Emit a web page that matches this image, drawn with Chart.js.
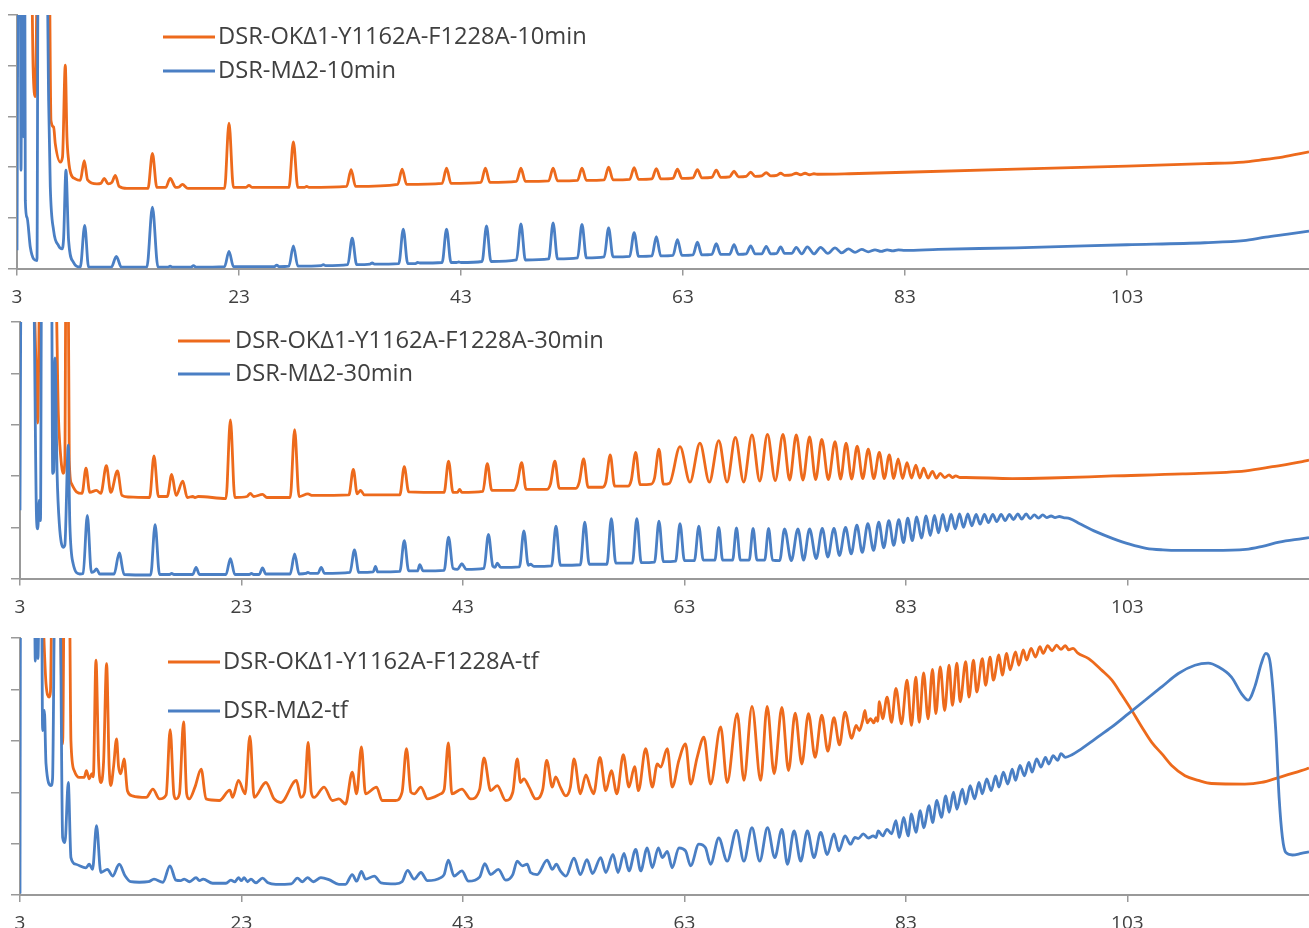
<!DOCTYPE html>
<html><head><meta charset="utf-8">
<script src="https://cdn.jsdelivr.net/npm/chart.js@4.4.1/dist/chart.umd.min.js"></script>
<style>
html,body{margin:0;padding:0;background:#fff;overflow:hidden;width:1309px;height:928px;}
.panel{position:absolute;left:0;width:1309px;}
canvas{display:block;}
</style></head><body>
<div class="panel" style="top:0px"><canvas id="c1" width="1309" height="330"></canvas></div>
<div class="panel" style="top:310px"><canvas id="c2" width="1309" height="330"></canvas></div>
<div class="panel" style="top:626px"><canvas id="c3" width="1309" height="330"></canvas></div>
<script>
// ---------------- DATA ----------------
const xTicks = [3, 23, 43, 63, 83, 103];
const labels1 = ['DSR-OK\u03941-Y1162A-F1228A-10min', 'DSR-M\u03942-10min'];
const labels2 = ['DSR-OK\u03941-Y1162A-F1228A-30min', 'DSR-M\u03942-30min'];
const labels3 = ['DSR-OK\u03941-Y1162A-F1228A-tf', 'DSR-M\u03942-tf'];

const p1Orange = [[3,3.78],[3.12,6],[4.3,6],[4.45,3.98],[4.65,3.39],[4.85,6],[5.9,6],[6.06,2.92],[6.3,2.79],[6.45,2.46],[6.9,2.1],[7.1,2.2],[7.35,4.01],[7.5,2.6],[7.65,2.13],[7.85,1.87],[8.25,1.77],[8.7,1.74],[9.06,2.13],[9.36,1.75],[10.2,1.67],[10.55,1.68],[10.87,1.78],[11.2,1.67],[11.55,1.7],[11.86,1.84],[12.2,1.62],[12.9,1.58],[14.8,1.58],[15.2,2.27],[15.6,1.6],[16.4,1.6],[16.8,1.78],[17.3,1.6],[17.6,1.61],[17.9,1.66],[18.4,1.58],[21.7,1.58],[22.1,2.87],[22.5,1.6],[23.6,1.6],[23.9,1.64],[24.2,1.6],[27.5,1.6],[27.9,2.5],[28.3,1.6],[28.9,1.6],[29.1,1.62],[29.3,1.6],[32.7,1.62],[33.1,1.95],[33.5,1.62],[37.3,1.66],[37.7,1.96],[38.1,1.66],[41.3,1.68],[41.7,1.98],[42.1,1.68],[44.8,1.7],[45.2,1.98],[45.6,1.7],[48.0,1.72],[48.4,1.98],[48.8,1.72],[50.9,1.73],[51.3,1.98],[51.7,1.73],[53.5,1.74],[53.9,1.98],[54.3,1.74],[55.9,1.75],[56.3,2.0],[56.7,1.75],[58.2,1.76],[58.6,1.99],[59.0,1.76],[60.2,1.77],[60.6,1.97],[61.0,1.77],[62.1,1.78],[62.5,1.96],[62.9,1.78],[63.9,1.79],[64.3,1.95],[64.7,1.79],[65.6,1.8],[66.0,1.94],[66.4,1.8],[67.2,1.81],[67.6,1.92],[68.0,1.81],[68.7,1.82],[69.1,1.9],[69.5,1.82],[70.1,1.83],[70.5,1.89],[70.9,1.83],[71.45,1.84],[71.8,1.88],[72.15,1.84],[72.8,1.85],[73.2,1.88],[73.6,1.85],[74.0,1.88],[74.4,1.85],[74.8,1.87],[75.2,1.86],[78,1.87],[83,1.9],[93,1.96],[103,2.02],[110,2.07],[113.5,2.1],[115,2.14],[117,2.2],[119.4,2.3]];

const p1Blue = [[3,0.36],[3.1,6],[3.3,6],[3.36,1.94],[3.45,6],[3.55,6],[3.6,2.6],[3.65,6],[3.7,6],[3.75,1.34],[3.9,1.01],[4.2,0.42],[4.5,0.19],[4.8,0.16],[4.9,6],[5.7,6],[5.85,3.32],[6.0,1.61],[6.3,0.75],[6.75,0.45],[7.05,0.39],[7.2,0.6],[7.41,1.94],[7.65,0.55],[8.1,0.12],[8.7,0.03],[9.1,0.85],[9.45,0.03],[11.5,0.03],[11.95,0.24],[12.4,0.03],[14.7,0.03],[15.2,1.21],[15.7,0.03],[16.6,0.03],[16.8,0.05],[17.0,0.03],[18.7,0.03],[18.9,0.06],[19.1,0.03],[21.7,0.04],[22.1,0.34],[22.5,0.04],[26.2,0.04],[26.4,0.07],[26.6,0.04],[27.5,0.05],[27.9,0.45],[28.3,0.05],[30.4,0.06],[30.6,0.08],[30.8,0.06],[32.8,0.08],[33.2,0.6],[33.6,0.08],[34.8,0.09],[35.0,0.11],[35.2,0.09],[37.4,0.1],[37.8,0.78],[38.2,0.1],[38.9,0.1],[39.1,0.12],[39.3,0.11],[41.3,0.12],[41.7,0.78],[42.1,0.12],[42.6,0.12],[42.8,0.13],[43.0,0.12],[44.9,0.14],[45.3,0.84],[45.7,0.14],[48.0,0.17],[48.4,0.88],[48.8,0.17],[50.9,0.19],[51.3,0.9],[51.7,0.19],[53.5,0.21],[53.9,0.87],[54.3,0.21],[55.9,0.23],[56.3,0.8],[56.7,0.23],[58.2,0.24],[58.6,0.71],[59.0,0.24],[60.2,0.25],[60.6,0.63],[61.0,0.25],[62.1,0.26],[62.5,0.57],[62.9,0.26],[63.9,0.27],[64.3,0.52],[64.7,0.27],[65.6,0.28],[66.0,0.49],[66.4,0.28],[67.2,0.28],[67.6,0.47],[68.0,0.28],[68.7,0.29],[69.1,0.45],[69.5,0.29],[70.1,0.29],[70.5,0.44],[70.9,0.29],[71.45,0.3],[71.8,0.43],[72.15,0.3],[72.8,0.3],[73.2,0.42],[73.7,0.29],[74.2,0.43],[74.8,0.29],[75.4,0.42],[76.05,0.3],[76.7,0.41],[77.3,0.31],[77.9,0.39],[78.5,0.32],[79.1,0.38],[79.7,0.33],[80.3,0.37],[80.85,0.34],[81.4,0.37],[81.9,0.35],[82.4,0.37],[83,0.36],[86,0.38],[93,0.41],[103,0.47],[110,0.51],[113.5,0.55],[115.5,0.62],[117.5,0.68],[119.4,0.74]];

const p2Orange = [[3,6],[4.15,6],[4.5,3.74],[4.6,3.03],[4.8,6],[6.2,6],[6.46,3.22],[6.6,2.6],[6.9,2.05],[7.05,2.3],[7.15,6],[7.35,6],[7.45,2.3],[7.65,1.85],[8.1,1.69],[8.6,1.66],[8.96,2.15],[9.3,1.68],[9.9,1.72],[10.3,1.66],[10.8,2.2],[11.2,1.68],[11.8,2.1],[12.2,1.62],[12.8,1.59],[14.7,1.58],[15.1,2.39],[15.5,1.6],[16.3,1.6],[16.7,2.03],[17.1,1.62],[17.7,1.9],[18.1,1.58],[18.6,1.6],[18.8,1.58],[19.1,1.6],[21.6,1.56],[22.0,3.09],[22.4,1.58],[23.5,1.6],[23.8,1.66],[24.1,1.6],[24.9,1.64],[25.3,1.58],[27.4,1.58],[27.8,2.9],[28.2,1.6],[29.0,1.65],[29.4,1.62],[32.7,1.63],[33.1,2.13],[33.45,1.65],[33.75,1.72],[34.1,1.63],[37.3,1.63],[37.7,2.18],[38.1,1.69],[41.3,1.68],[41.7,2.29],[42.1,1.68],[42.5,1.68],[42.7,1.74],[42.9,1.68],[44.8,1.7],[45.2,2.24],[45.6,1.72],[47.6,1.72],[47.9,1.85],[48.3,2.26],[48.7,1.74],[50.6,1.74],[50.9,1.84],[51.3,2.29],[51.7,1.76],[53.2,1.76],[53.5,1.88],[53.9,2.33],[54.3,1.78],[55.6,1.78],[55.9,1.88],[56.3,2.41],[56.7,1.8],[57.9,1.8],[58.2,1.92],[58.6,2.46],[59.0,1.83],[60.0,1.84],[60.3,1.96],[60.7,2.52],[61.1,1.84],[61.65,1.86],[62.6,2.57],[63.5,1.88],[64.4,2.64],[65.25,1.88],[66.1,2.69],[66.85,1.88],[67.6,2.75],[68.35,1.88],[69.1,2.8],[69.8,1.9],[70.5,2.81],[71.2,1.91],[71.9,2.81],[72.5,1.92],[73.1,2.8],[73.7,1.92],[74.3,2.76],[74.85,1.93],[75.4,2.71],[76.0,1.93],[76.6,2.67],[77.1,1.94],[77.6,2.64],[78.1,1.94],[78.6,2.58],[79.1,1.95],[79.6,2.52],[80.1,1.95],[80.6,2.46],[81.05,1.95],[81.5,2.41],[81.9,1.95],[82.3,2.33],[82.7,1.95],[83.1,2.26],[83.5,1.96],[83.9,2.21],[84.25,1.96],[84.6,2.15],[85.0,1.96],[85.4,2.09],[85.75,1.96],[86.1,2.05],[86.5,1.97],[86.9,2.02],[87.2,1.97],[87.5,2.0],[87.9,1.97],[88.4,1.97],[92.6,1.95],[96,1.96],[101.7,2.0],[108,2.04],[113.7,2.1],[116.1,2.18],[118.8,2.28],[119.4,2.31]];

const p2Blue = [[3,1.33],[3.1,6],[4.2,6],[4.5,1.13],[4.6,0.97],[4.75,1.53],[4.85,1.13],[4.95,6],[5.85,6],[5.95,2.05],[6.05,2.1],[6.16,4.3],[6.35,2.05],[6.55,1.07],[6.9,0.61],[7.05,0.65],[7.36,2.6],[7.5,1.07],[7.8,0.29],[8.4,0.09],[8.7,0.1],[9.08,1.23],[9.45,0.12],[9.7,0.14],[9.9,0.19],[10.2,0.09],[11.5,0.09],[11.96,0.5],[12.4,0.08],[14.8,0.07],[15.2,1.05],[15.6,0.08],[16.5,0.08],[16.7,0.1],[16.9,0.08],[18.6,0.08],[18.9,0.22],[19.2,0.08],[21.6,0.08],[22.0,0.39],[22.4,0.08],[23.7,0.08],[23.9,0.1],[24.1,0.08],[24.6,0.08],[24.9,0.21],[25.2,0.09],[27.4,0.09],[27.8,0.48],[28.2,0.09],[28.8,0.1],[29.0,0.12],[29.2,0.1],[29.9,0.1],[30.2,0.22],[30.5,0.1],[32.8,0.12],[33.2,0.56],[33.6,0.12],[34.9,0.13],[35.1,0.24],[35.3,0.13],[37.3,0.14],[37.7,0.74],[38.1,0.15],[38.9,0.15],[39.1,0.27],[39.4,0.15],[41.3,0.16],[41.7,0.81],[42.1,0.2],[42.5,0.18],[42.9,0.29],[43.3,0.18],[44.9,0.2],[45.3,0.86],[45.7,0.24],[45.9,0.22],[46.1,0.3],[46.4,0.22],[48.1,0.23],[48.5,0.93],[48.9,0.26],[49.1,0.28],[49.4,0.24],[51.0,0.25],[51.4,1.02],[51.8,0.26],[53.6,0.27],[54.0,1.1],[54.4,0.28],[56.0,0.28],[56.4,1.17],[56.8,0.3],[58.3,0.3],[58.7,1.17],[59.1,0.31],[60.3,0.32],[60.7,1.12],[61.1,0.33],[62.2,0.34],[62.6,1.07],[63.0,0.35],[63.9,0.35],[64.3,1.02],[64.7,0.36],[65.75,0.36],[66.1,1.0],[66.45,0.36],[67.35,0.36],[67.7,0.99],[68.05,0.36],[68.85,0.36],[69.2,0.98],[69.55,0.36],[70.25,0.36],[70.6,0.98],[70.95,0.36],[71.6,0.35],[72.04,0.97],[72.65,0.35],[73.25,0.97],[73.76,0.36],[74.3,0.97],[74.9,0.39],[75.45,0.98],[75.95,0.42],[76.5,0.98],[77.0,0.45],[77.55,1.0],[78.06,0.48],[78.57,1.04],[79.06,0.51],[79.56,1.07],[80.08,0.55],[80.55,1.1],[81.0,0.6],[81.46,1.13],[81.9,0.65],[82.36,1.15],[82.78,0.7],[83.17,1.18],[83.57,0.74],[83.98,1.2],[84.4,0.79],[84.83,1.22],[85.2,0.84],[85.58,1.23],[85.94,0.89],[86.33,1.25],[86.7,0.93],[87.09,1.25],[87.45,0.97],[87.84,1.26],[88.2,1.0],[88.59,1.26],[88.95,1.03],[89.34,1.25],[89.7,1.06],[90.09,1.25],[90.45,1.09],[90.85,1.25],[91.2,1.11],[91.6,1.25],[91.96,1.13],[92.35,1.25],[92.71,1.15],[93.1,1.26],[93.46,1.16],[93.86,1.26],[94.22,1.17],[94.6,1.24],[94.97,1.18],[95.36,1.24],[95.72,1.19],[96.11,1.22],[96.47,1.19],[96.86,1.21],[97.22,1.19],[97.8,1.17],[98.7,1.07],[100.2,0.91],[101.7,0.78],[103.2,0.67],[104.7,0.59],[106.2,0.56],[107.7,0.55],[110.7,0.55],[113.7,0.57],[115.2,0.63],[116.7,0.71],[118.8,0.78],[119.4,0.8]];

const p3Orange = [[3,6],[4.9,6],[5.35,4.11],[5.64,3.85],[5.75,3.95],[5.9,6],[6.6,6],[6.85,2.94],[7.0,6],[7.45,6],[7.6,3.0],[7.9,2.42],[8.35,2.29],[8.8,2.29],[9.0,2.42],[9.25,2.26],[9.5,2.36],[9.62,2.3],[9.86,4.57],[10.1,2.6],[10.3,2.19],[10.55,2.6],[10.82,4.5],[11.05,2.5],[11.2,2.13],[11.45,2.5],[11.72,3.04],[11.9,2.5],[12.1,2.36],[12.4,2.65],[12.7,2.03],[13.15,1.93],[14.4,1.9],[15.0,2.06],[15.6,1.87],[16.2,1.95],[16.56,3.22],[16.9,1.95],[17.08,1.87],[17.4,1.97],[17.77,3.37],[18.05,1.97],[18.28,1.87],[18.8,2.1],[19.36,2.45],[19.8,1.87],[21.0,1.84],[21.95,2.04],[22.2,1.9],[22.73,2.23],[23.33,1.97],[23.76,3.09],[24.15,1.9],[25.2,2.19],[25.95,1.87],[26.56,1.8],[27.96,2.23],[28.36,1.9],[28.7,2.0],[29.02,2.97],[29.3,2.0],[29.56,1.9],[30.46,2.1],[31.2,1.84],[31.8,1.87],[32.4,1.77],[33.0,2.39],[33.4,1.97],[33.83,2.88],[34.2,1.97],[35.2,2.1],[35.7,1.84],[36.9,1.84],[37.5,2.0],[37.9,2.85],[38.3,2.0],[38.6,1.97],[39.2,2.1],[39.8,1.87],[41.0,1.97],[41.3,2.05],[41.68,2.96],[42.0,1.97],[42.9,2.06],[43.7,1.87],[44.5,2.05],[44.9,2.67],[45.5,2.03],[46.1,2.13],[46.86,1.84],[47.5,2.0],[47.9,2.65],[48.2,2.19],[48.5,2.26],[48.97,2.1],[49.57,1.87],[50.2,2.05],[50.56,2.62],[51.07,2.1],[51.37,2.3],[51.8,2.1],[52.28,1.93],[52.7,2.1],[53.03,2.65],[53.6,1.97],[54.1,2.34],[54.5,2.1],[54.8,1.97],[55.37,2.68],[55.9,2.03],[56.4,2.42],[56.9,1.97],[57.48,2.73],[57.99,2.1],[58.5,2.5],[58.85,2.03],[59.5,2.85],[60.1,2.1],[60.55,2.55],[60.85,2.49],[61.45,2.85],[61.9,2.1],[62.5,2.62],[63.1,2.94],[63.56,2.16],[64.15,2.68],[64.76,3.07],[65.36,2.16],[66.27,3.27],[66.86,2.19],[67.77,3.53],[68.37,2.23],[69.1,3.67],[69.88,2.23],[70.47,3.67],[71.1,2.36],[71.8,3.65],[72.4,2.42],[73.0,3.54],[73.6,2.55],[74.2,3.53],[74.8,2.68],[75.4,3.5],[75.95,2.8],[76.5,3.45],[77.0,2.92],[77.5,3.56],[78.1,3.05],[78.5,3.3],[78.8,3.2],[79.1,3.4],[79.3,3.59],[79.5,3.35],[79.8,3.43],[80.1,3.35],[80.3,3.45],[80.45,3.38],[80.6,3.76],[80.9,3.43],[81.3,3.85],[81.7,3.36],[82.1,4.02],[82.6,3.33],[83.1,4.18],[83.5,3.3],[83.9,4.24],[84.2,3.36],[84.6,4.32],[85.0,3.43],[85.4,4.39],[85.7,3.53],[86.1,4.44],[86.5,3.59],[86.9,4.47],[87.2,3.69],[87.6,4.51],[87.9,3.76],[88.4,4.54],[88.7,3.85],[89.1,4.57],[89.4,3.95],[89.9,4.6],[90.2,4.08],[90.6,4.63],[90.9,4.18],[91.4,4.67],[91.7,4.28],[92.1,4.7],[92.4,4.38],[92.9,4.73],[93.2,4.47],[93.6,4.77],[93.9,4.57],[94.3,4.8],[94.7,4.63],[95.1,4.83],[95.4,4.7],[95.8,4.85],[96.2,4.75],[96.6,4.86],[97.0,4.78],[97.4,4.85],[97.7,4.77],[98.1,4.8],[98.5,4.71],[99.5,4.6],[100.7,4.37],[101.6,4.18],[102.5,3.89],[103.4,3.59],[104.3,3.27],[105.2,2.97],[106.1,2.75],[107.0,2.52],[108.2,2.32],[109.4,2.23],[110.6,2.17],[113.6,2.16],[115.1,2.19],[116.7,2.29],[118.7,2.42],[119.4,2.47]];

const p3Blue = [[3,0.03],[3.05,6],[4.3,6],[4.38,4.55],[4.5,5.2],[4.62,4.6],[4.75,6],[4.95,6],[5.04,3.2],[5.2,3.59],[5.35,2.55],[5.8,2.13],[5.94,2.26],[6.15,6],[6.6,6],[6.85,1.12],[7.06,1.02],[7.36,2.19],[7.6,0.73],[8.05,0.6],[8.96,0.53],[9.25,0.6],[9.55,0.5],[9.91,1.35],[10.3,0.44],[10.9,0.5],[11.36,0.37],[11.96,0.6],[12.5,0.37],[13.0,0.26],[13.77,0.25],[14.6,0.26],[15.1,0.31],[15.9,0.25],[16.54,0.57],[17.08,0.29],[17.5,0.28],[17.83,0.31],[18.3,0.26],[18.9,0.34],[19.2,0.28],[19.54,0.31],[20.4,0.23],[21.6,0.23],[22.04,0.29],[22.4,0.26],[22.73,0.34],[23.0,0.28],[23.24,0.34],[23.55,0.26],[23.85,0.31],[24.3,0.24],[24.9,0.33],[25.4,0.24],[26.1,0.21],[27.5,0.22],[28.05,0.33],[28.5,0.26],[28.96,0.34],[29.5,0.26],[30.17,0.34],[30.9,0.3],[31.8,0.21],[32.4,0.21],[33.0,0.4],[33.4,0.27],[33.83,0.46],[34.2,0.31],[35.0,0.37],[35.6,0.24],[36.9,0.22],[37.5,0.26],[38.0,0.48],[38.6,0.31],[39.2,0.44],[39.8,0.28],[41.0,0.34],[41.3,0.4],[41.68,0.68],[42.2,0.37],[42.9,0.47],[43.5,0.27],[44.5,0.35],[44.97,0.61],[45.5,0.4],[46.2,0.5],[46.86,0.29],[47.5,0.4],[47.9,0.66],[48.36,0.57],[48.8,0.6],[49.1,0.44],[49.7,0.4],[50.6,0.68],[51.07,0.5],[51.43,0.6],[51.8,0.47],[52.3,0.37],[53.03,0.72],[53.6,0.4],[54.2,0.69],[54.7,0.42],[55.44,0.73],[55.9,0.44],[56.55,0.79],[57.0,0.44],[57.54,0.81],[57.99,0.47],[58.6,0.89],[59.05,0.47],[59.64,0.92],[60.1,0.53],[60.64,0.92],[61.0,0.73],[61.45,0.85],[61.9,0.53],[62.5,0.92],[63.1,0.86],[63.56,0.57],[64.3,0.99],[64.9,0.92],[65.36,0.6],[66.1,1.11],[66.86,0.66],[67.7,1.26],[68.37,0.66],[69.1,1.31],[69.8,0.66],[70.5,1.31],[71.16,0.73],[71.8,1.28],[72.3,0.6],[72.9,1.25],[73.5,0.66],[74.1,1.25],[74.7,0.73],[75.3,1.22],[75.9,0.79],[76.5,1.19],[76.95,0.86],[77.5,1.15],[78.0,0.99],[78.4,1.12],[78.7,1.1],[79.15,1.19],[79.6,1.11],[80.05,1.15],[80.3,1.12],[80.5,1.25],[80.9,1.15],[81.3,1.28],[81.7,1.19],[82.1,1.45],[82.4,1.12],[82.8,1.51],[83.2,1.15],[83.5,1.58],[83.9,1.22],[84.3,1.64],[84.6,1.31],[85.1,1.74],[85.4,1.41],[85.8,1.84],[86.2,1.51],[86.6,1.93],[86.9,1.61],[87.3,2.0],[87.6,1.67],[88.1,2.06],[88.4,1.77],[88.8,2.13],[89.2,1.87],[89.6,2.19],[89.9,1.97],[90.3,2.26],[90.7,2.03],[91.1,2.32],[91.4,2.1],[91.8,2.39],[92.2,2.16],[92.6,2.45],[92.9,2.23],[93.3,2.52],[93.7,2.32],[94.1,2.58],[94.4,2.39],[94.8,2.65],[95.2,2.49],[95.6,2.68],[95.9,2.55],[96.3,2.71],[96.7,2.62],[97.0,2.75],[97.4,2.68],[98.0,2.73],[98.6,2.81],[100.1,3.04],[101.6,3.27],[103.1,3.53],[104.6,3.79],[106.1,4.05],[107.6,4.31],[109.1,4.47],[110.3,4.51],[111.2,4.44],[112.4,4.24],[113.3,3.92],[113.9,3.79],[114.5,4.05],[115.1,4.51],[115.5,4.7],[115.9,4.51],[116.4,3.2],[116.7,1.9],[117.0,1.12],[117.3,0.83],[117.9,0.78],[118.7,0.81],[119.4,0.84]];

// ---------------- STYLE / LAYOUT ----------------
const ORANGE = '#ED6A1C';
const BLUE = '#4A7FC4';
const AXIS = '#999999';
const TEXT = '#404040';
const FONT = '"Open Sans", "DejaVu Sans", sans-serif';

const inlineLegend = {
  id: 'inlineLegend',
  afterDraw(chart, args, opts) {
    const ctx = chart.ctx;
    ctx.save();
    chart.data.datasets.forEach((ds, i) => {
      const it = opts.items[i];
      ctx.strokeStyle = ds.borderColor;
      ctx.lineWidth = 3;
      ctx.beginPath();
      ctx.moveTo(it.x1, it.y);
      ctx.lineTo(it.x2, it.y);
      ctx.stroke();
      ctx.fillStyle = TEXT;
      ctx.font = opts.fontSize + 'px ' + FONT;
      ctx.textBaseline = 'middle';
      ctx.textAlign = 'left';
      ctx.fillText(ds.label, it.tx, it.y);
    });
    ctx.restore();
  }
};

function makeChart(id, orange, blue, labels, cfg) {
  return new Chart(document.getElementById(id), {
    type: 'line',
    data: {
      datasets: [
        { label: labels[0], data: orange, borderColor: ORANGE, borderWidth: 2.8, pointRadius: 0, cubicInterpolationMode: 'monotone', order: 2 },
        { label: labels[1], data: blue, borderColor: BLUE, borderWidth: 2.8, pointRadius: 0, cubicInterpolationMode: 'monotone', order: 1 }
      ]
    },
    options: {
      responsive: false,
      animation: false,
      events: [],
      layout: { padding: { top: cfg.padTop, bottom: cfg.padBottom, left: cfg.padLeft, right: 0 } },
      plugins: {
        legend: { display: false },
        tooltip: { enabled: false },
        inlineLegend: { items: cfg.legend, fontSize: 23.7 }
      },
      scales: {
        x: {
          type: 'linear', min: 3, max: 119.4,
          afterBuildTicks: (s) => { s.ticks = xTicks.map(v => ({ value: v })); },
          grid: { display: true, drawOnChartArea: false, drawTicks: true, tickLength: 7, color: AXIS, lineWidth: 1.5 },
          border: { display: true, color: AXIS, width: 2 },
          ticks: { color: TEXT, font: { family: FONT, size: 19 }, padding: cfg.tickPad, maxRotation: 0, autoSkip: false }
        },
        y: {
          type: 'linear', min: 0, max: 5,
          ticks: { display: false, stepSize: 1 },
          grid: { display: true, drawOnChartArea: false, drawTicks: true, tickLength: 9, color: AXIS, lineWidth: 1.5 },
          border: { display: true, color: AXIS, width: 2 }
        }
      }
    },
    plugins: [inlineLegend]
  });
}

makeChart('c1', p1Orange, p1Blue, labels1, {
  padTop: 15, padBottom: 9.6, padLeft: 8, tickPad: 11,
  legend: [{ x1: 163, x2: 215, y: 37, tx: 218 }, { x1: 163, x2: 215, y: 71, tx: 218 }]
});
makeChart('c2', p2Orange, p2Blue, labels2, {
  padTop: 12, padBottom: 10.6, padLeft: 11, tickPad: 10.5,
  legend: [{ x1: 178, x2: 230, y: 31, tx: 235 }, { x1: 178, x2: 230, y: 64, tx: 235 }]
});
makeChart('c3', p3Orange, p3Blue, labels3, {
  padTop: 12, padBottom: 10.1, padLeft: 11, tickPad: 10.5,
  legend: [{ x1: 168, x2: 220, y: 36, tx: 223 }, { x1: 168, x2: 220, y: 85, tx: 223 }]
});
</script>
</body></html>
